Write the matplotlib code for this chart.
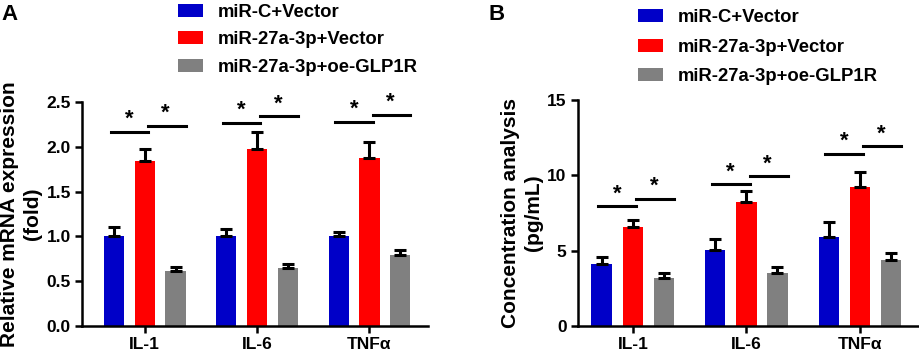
import numpy as np
import matplotlib
matplotlib.use('Agg')
import matplotlib.pyplot as plt
from matplotlib.patches import Patch

plt.rcParams['font.family'] = ['Liberation Sans', 'DejaVu Sans']
plt.rcParams['font.weight'] = 'bold'

genes = ['IL-1', 'IL-6', 'TNFα']
grupos = ['miR-C+Vector', 'miR-27a-3p+Vector', 'miR-27a-3p+oe-GLP1R']
cores = ['#0000C8', '#FF0000', '#808080']

# painel A - mRNA relativo
mrna = [[1.00, 1.00, 1.00],
        [1.84, 1.97, 1.88],
        [0.61, 0.65, 0.79]]
mrna_err = [[0.10, 0.08, 0.045],
            [0.14, 0.19, 0.17],
            [0.05, 0.04, 0.06]]
# alturas das barras de significancia (esquerda, direita)
mrna_sig = [[2.17, 2.23], [2.27, 2.34], [2.28, 2.36]]

# painel B - concentracao
conc = [[4.09, 5.04, 5.93],
        [6.59, 8.23, 9.25],
        [3.16, 3.50, 4.38]]
conc_err = [[0.47, 0.73, 0.97],
            [0.44, 0.73, 0.97],
            [0.33, 0.40, 0.44]]
conc_sig = [[7.96, 8.47], [9.42, 9.97], [11.46, 11.96]]

fig = plt.figure(figsize=(9.2, 3.55), dpi=100)
axA = fig.add_axes([0.089, 0.0817, 0.376, 0.631])
axB = fig.add_axes([0.628, 0.0817, 0.372, 0.636])

largura = 0.18
desloc = 0.274
x = np.arange(len(genes))


def painel(ax, vals, errs, sig, ymax, yticks, ylabel, xlim, star_off):
    for i in range(3):
        pos = x + (i - 1) * desloc
        ax.bar(pos, vals[i], width=largura, color=cores[i], zorder=2)
        ax.errorbar(pos, vals[i], yerr=[np.zeros(3), errs[i]], fmt='none',
                    ecolor='black', elinewidth=2.2, capsize=4, capthick=2.2, zorder=3)
    for g in range(3):
        l, r = sig[g]
        ax.plot([x[g] - desloc - 0.03, x[g] + 0.03], [l, l], color='black', lw=2.2, clip_on=False)
        ax.plot([x[g] + 0.03, x[g] + desloc + 0.09], [r, r], color='black', lw=2.2, clip_on=False)
        ax.text(x[g] - desloc / 2, l + star_off, '*', ha='center', va='center',
                fontsize=16, fontweight='bold', clip_on=False)
        ax.text(x[g] + desloc / 2 + 0.05, r + star_off, '*', ha='center', va='center',
                fontsize=16, fontweight='bold', clip_on=False)
    ax.set_ylim(0, ymax)
    ax.set_xlim(*xlim)
    ax.set_yticks(yticks)
    ax.set_xticks(x)
    ax.set_xticklabels(genes)
    ax.set_ylabel(ylabel, fontsize=15, fontweight='bold', linespacing=1.25, labelpad=3)
    for s in ['top', 'right']:
        ax.spines[s].set_visible(False)
    for s in ['left', 'bottom']:
        ax.spines[s].set_linewidth(1.8)
    ax.tick_params(width=1.8, length=5, labelsize=12.5, direction='out', pad=3)
    for t in ax.get_xticklabels() + ax.get_yticklabels():
        t.set_fontweight('bold')


painel(axA, mrna, mrna_err, mrna_sig, 2.5, [0.0, 0.5, 1.0, 1.5, 2.0, 2.5],
       'Relative mRNA expression\n(fold)', (-0.56, 2.52), 0.14)
axA.yaxis.set_major_formatter(matplotlib.ticker.FormatStrFormatter('%.1f'))

painel(axB, conc, conc_err, conc_sig, 15, [0, 5, 10, 15],
       'Concentration analysis\n(pg/mL)', (-0.485, 2.53), 0.8)

handles = [Patch(facecolor=c, edgecolor='none') for c in cores]
for ax, bbox, esp in [(axA, (0.185, 1.01), 0.56), (axB, (0.6855, 0.995), 0.68)]:
    fig.legend(handles, grupos, loc='upper left', bbox_to_anchor=bbox,
               frameon=False, prop={'size': 13.3, 'weight': 'bold'},
               handlelength=1.35, handleheight=0.7, handletextpad=0.8,
               labelspacing=esp, borderaxespad=0)

fig.text(0.002, 0.99, 'A', fontsize=16, fontweight='bold', va='top')
fig.text(0.531, 0.99, 'B', fontsize=16, fontweight='bold', va='top')

fig.savefig('out.png', dpi=100)
